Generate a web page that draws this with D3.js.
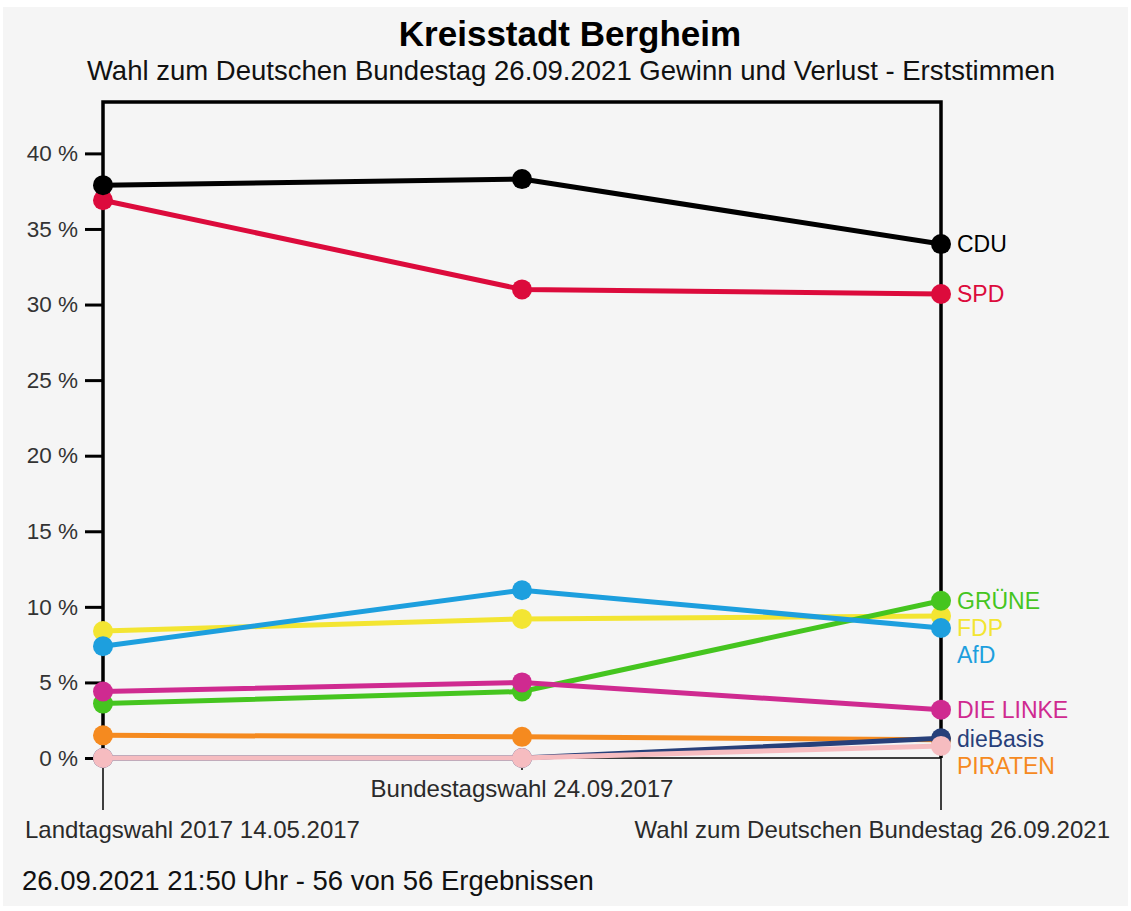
<!DOCTYPE html>
<html>
<head>
<meta charset="utf-8">
<script src="https://cdn.jsdelivr.net/npm/d3@7"></script>
<style>
  html, body { margin: 0; padding: 0; background: #fff; }
  svg { display: block; font-family: "Liberation Sans", Arial, Helvetica, sans-serif; }
</style>
</head>
<body>
<div id="frame"></div>
<script>
const width = 1131
const height = 911

// data
const elections = ['Landtagswahl 2017 14.05.2017', 'Bundestagswahl 24.09.2017', 'Wahl zum Deutschen Bundestag 26.09.2021']
const parties = ['SPD', 'CDU', 'FDP', 'GRÜNE', 'AfD', 'DIE LINKE', 'PIRATEN', 'dieBasis', 'Andere']
const showLabel = [true, true, true, true, true, true, true, true, false]
const partyColors = ['#dc0b3c', '#000000', '#f3e532', '#45c51f', '#1d9fde', '#cf2a90', '#f58a1f', '#27407a', '#f6bcc0']
const shares = [
  [36.9, 31.0, 30.7],
  [37.9, 38.3, 34.0],
  [8.4, 9.2, 9.4],
  [3.6, 4.4, 10.4],
  [7.4, 11.1, 8.6],
  [4.4, 5.0, 3.2],
  [1.5, 1.4, 1.2],
  [0.0, 0.0, 1.3],
  [0.0, 0.0, 0.8]
]
const yTicks = [0, 5, 10, 15, 20, 25, 30, 35, 40]

const title = 'Kreisstadt Bergheim'
const subtitle = 'Wahl zum Deutschen Bundestag 26.09.2021 Gewinn und Verlust - Erststimmen'
const footer = '26.09.2021 21:50 Uhr - 56 von 56 Ergebnissen'

const plot = { left: 103, right: 941, top: 102, bottom: 758 }
const style = {
  bg: '#f5f5f5',
  text: '#2a2a2a',
  lineWidth: 5,
  radius: 10,
  labelGap: 27
}

const svg = d3.select('#frame')
  .append('svg')
  .attr('width', width)
  .attr('height', height)

svg.append('rect')
  .attr('x', 3).attr('y', 7)
  .attr('width', width - 6).attr('height', height - 12)
  .attr('fill', style.bg)

const x = d3.scalePoint()
  .domain(elections)
  .range([plot.left, plot.right])

const y = d3.scaleLinear()
  .domain([0, 43.4])
  .range([plot.bottom, plot.top])

// titles
svg.append('text')
  .attr('x', 570).attr('y', 46)
  .attr('text-anchor', 'middle')
  .attr('font-size', 35)
  .attr('font-weight', 'bold')
  .attr('fill', '#000')
  .text(title)

svg.append('text')
  .attr('x', 571).attr('y', 80)
  .attr('text-anchor', 'middle')
  .attr('font-size', 27.5)
  .attr('fill', '#111')
  .text(subtitle)

// y axis
const yAxis = d3.axisLeft(y)
  .tickValues(yTicks)
  .tickFormat(d => `${d} %`)
  .tickSize(18)
  .tickPadding(7)

const gy = svg.append('g')
  .attr('transform', `translate(${plot.left},0)`)
  .call(yAxis)
gy.select('.domain').remove()
gy.selectAll('.tick line').attr('stroke', '#000').attr('stroke-width', 3)
gy.selectAll('.tick text')
  .attr('font-size', 22.5)
  .attr('font-family', '"Liberation Sans", Arial, sans-serif')
  .attr('fill', '#333')

// frame
const frame = svg.append('g').attr('stroke', '#000').attr('fill', 'none')
frame.append('path')
  .attr('d', `M${plot.left},${plot.bottom}V${plot.top}H${plot.right}V${plot.bottom}`)
  .attr('stroke-width', 3.5)
frame.append('line')
  .attr('x1', plot.left).attr('x2', plot.right)
  .attr('y1', plot.bottom).attr('y2', plot.bottom)
  .attr('stroke-width', 1.5)

// x ticks, outer ones long, middle short
const tickLen = [52, 12, 52]
elections.forEach((e, i) => {
  frame.append('line')
    .attr('x1', x(e)).attr('x2', x(e))
    .attr('y1', plot.bottom).attr('y2', plot.bottom + tickLen[i])
    .attr('stroke-width', 1.5)
})

const labelY = [838, 797, 838]
elections.forEach((e, i) => {
  const t = svg.append('text')
    .attr('y', labelY[i])
    .attr('font-size', 24)
    .attr('fill', style.text)
    .text(e)
  const w = t.node().getComputedTextLength()
  const left = Math.max(25, Math.min(1110 - w, x(e) - w / 2))
  t.attr('x', left)
})

// lines and points
const line = d3.line()
  .x((d, i) => x(elections[i]))
  .y(d => y(d))

parties.forEach((p, k) => {
  const g = svg.append('g')
  g.append('path')
    .datum(shares[k])
    .attr('d', line)
    .attr('fill', 'none')
    .attr('stroke', partyColors[k])
    .attr('stroke-width', style.lineWidth)
    .attr('stroke-linejoin', 'round')
  g.selectAll('circle')
    .data(shares[k])
    .join('circle')
    .attr('cx', (d, i) => x(elections[i]))
    .attr('cy', d => y(d))
    .attr('r', style.radius)
    .attr('fill', partyColors[k])
})

// end labels, pushed apart so they do not overlap
const last = elections.length - 1
const labels = parties
  .map((p, k) => ({ p, color: partyColors[k], y: y(shares[k][last]), show: showLabel[k] }))
  .filter(d => d.show)
  .sort((a, b) => a.y - b.y)
labels.forEach((d, i) => {
  if (i > 0 && d.y - labels[i - 1].y < style.labelGap) d.y = labels[i - 1].y + style.labelGap
})

svg.append('g')
  .selectAll('text')
  .data(labels)
  .join('text')
  .attr('x', plot.right + 16)
  .attr('y', d => d.y)
  .attr('dy', '0.36em')
  .attr('font-size', 23)
  .attr('fill', d => d.color)
  .text(d => d.p)

svg.append('text')
  .attr('x', 22).attr('y', 890)
  .attr('font-size', 27.5)
  .attr('fill', '#111')
  .text(footer)
</script>
</body>
</html>
